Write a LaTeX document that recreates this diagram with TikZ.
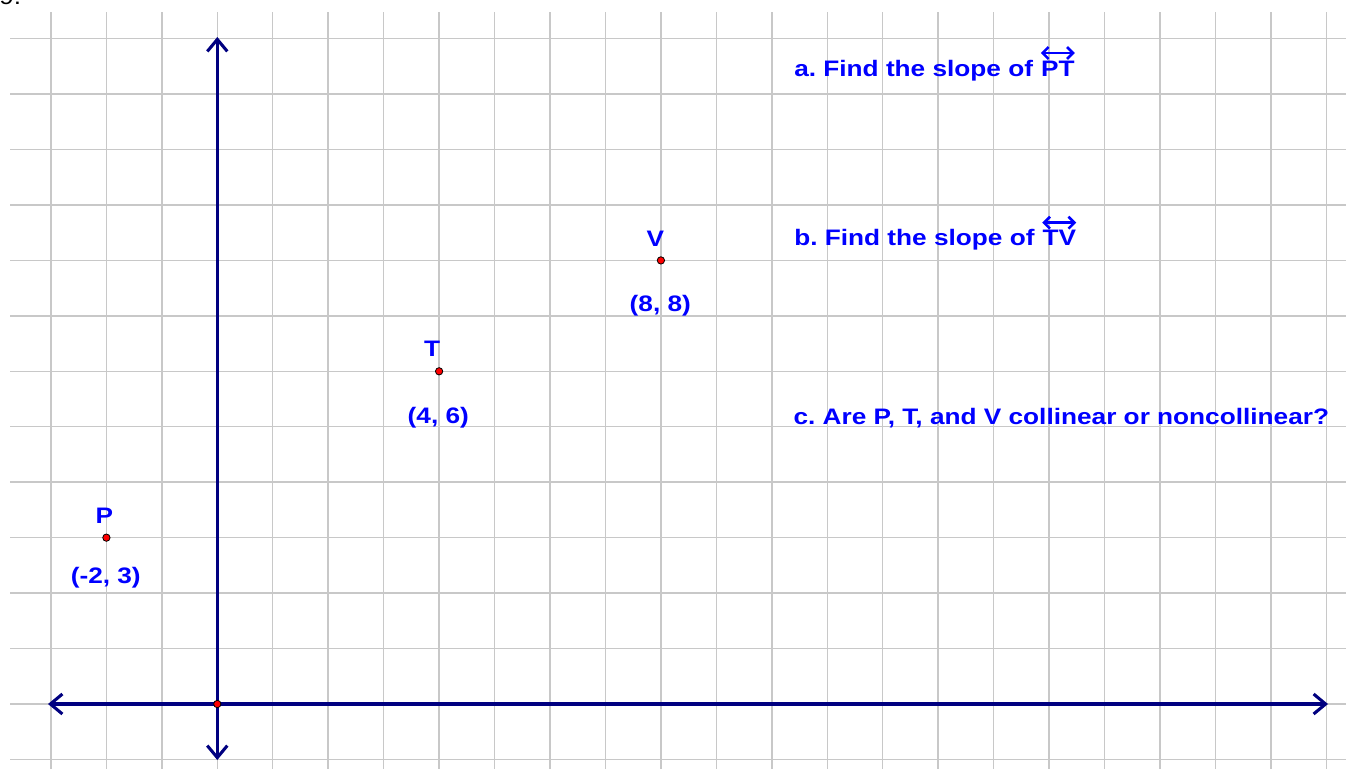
\documentclass[tikz,border=0pt]{standalone}
\usepackage{fontspec}
\setmainfont{Liberation Sans}
\newfontfamily\qfont[FakeStretch=1.17]{Liberation Sans}
\usetikzlibrary{arrows.meta}
\definecolor{gridgray}{RGB}{200,200,200}
\definecolor{axisnavy}{RGB}{0,0,128}
\definecolor{txtblue}{RGB}{0,0,255}
\frenchspacing
\begin{document}
\begin{tikzpicture}[x=0.75pt,y=-0.75pt,
  gridline/.style={draw=gridgray,line width=1.1pt},
  axis/.style={draw=axisnavy,line width=2.3pt,
    {Straight Barb[length=9pt,width=15pt]}-{Straight Barb[length=9pt,width=15pt]}},
  dot/.style={circle,fill=red,draw=black,line width=0.6pt,inner sep=0pt,minimum size=5.5pt},
  lbl/.style={text=txtblue,font=\qfont\fontsize{16.8}{19}\selectfont\bfseries,inner sep=0pt},
  overarrow/.style={draw=txtblue,line width=1.9pt,
    {Straight Barb[length=4.5pt,width=9pt]}-{Straight Barb[length=4.5pt,width=9pt]}},
]
\useasboundingbox (0,0) rectangle (1346,769);
\fill[white] (0,0) rectangle (1346,769);
% grid
\foreach \k in {-3,...,20} \draw[gridline] ({217.3+55.45*\k},12) -- ({217.3+55.45*\k},769);
\foreach \k in {-1,...,12} \draw[gridline] (10,{704-55.45*\k}) -- (1346,{704-55.45*\k});
% top-left number, cut by the top edge as in the reference
\node[anchor=base west,inner sep=0pt,font=\qfont\fontsize{16.8}{19}\selectfont] (num) at (-1,4) {9.};
% axes
\coordinate (xl) at (48,704);
\coordinate (xr) at (1328,704);
\coordinate (yt) at (217.3,37);
\coordinate (yb) at (217.3,760);
\draw[axis] (xl) -- (xr);
\draw[axis] (yt) -- (yb);
\node[dot] (O) at (217.3,704) {};
% points
\node[dot] (P) at (106.4,537.65) {};
\node[dot] (T) at (439.1,371.3) {};
\node[dot] (V) at (660.9,260.4) {};
% point labels
\node[lbl,anchor=base] (Pl) at (104.4,523) {P};
\node[lbl,anchor=base] (Pc) at (105.8,583) {(-2, 3)};
\node[lbl,anchor=base] (Tl) at (432,356) {T};
\node[lbl,anchor=base] (Tc) at (438.3,423) {(4, 6)};
\node[lbl,anchor=base] (Vl) at (655.3,246.7) {V};
\node[lbl,anchor=base] (Vc) at (660.3,311.7) {(8, 8)};
% questions
\node[lbl,anchor=base west] (qa) at (794,76) {a. Find the slope of};
\node[lbl,anchor=base west] (qapt) at ([xshift=5.6pt]qa.base east) {PT};
\draw[overarrow] ([yshift=5.5pt]qapt.north west) -- ([yshift=5.5pt]qapt.north east);
\node[lbl,anchor=base west] (qb) at (794,245.7) {b. Find the slope of};
\node[lbl,anchor=base west] (qbtv) at ([xshift=5.6pt]qb.base east) {TV};
\draw[overarrow] ([yshift=5.5pt]qbtv.north west) -- ([yshift=5.5pt]qbtv.north east);
\node[lbl,anchor=base west] (qc) at (793.3,424.3) {c. Are P, T, and V collinear or noncollinear?};
\end{tikzpicture}
\end{document}
